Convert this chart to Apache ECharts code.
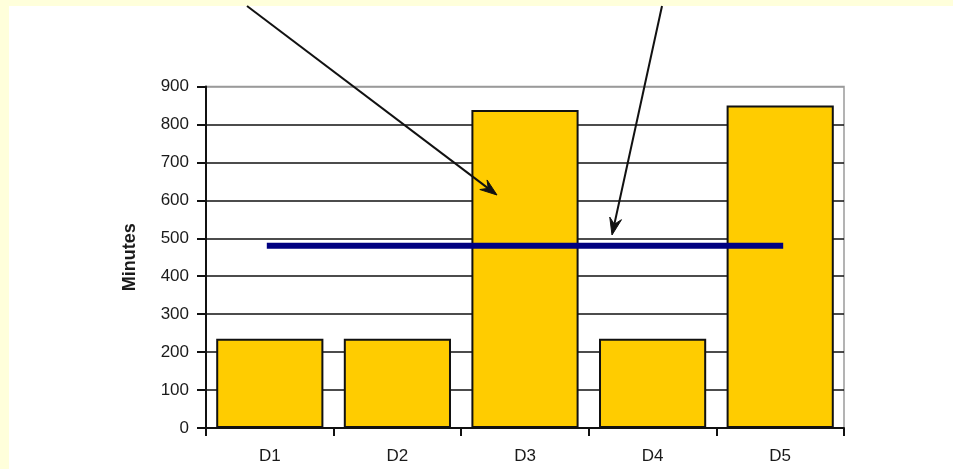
<!DOCTYPE html>
<html>
<head>
<meta charset="utf-8">
<script src="https://cdn.jsdelivr.net/npm/echarts@6/dist/echarts.min.js"></script>
<style>
html,body{margin:0;padding:0;background:#FFFFDB;}
#chart{width:953px;height:469px;}
</style>
</head>
<body>
<div id="chart"></div>
<script>
var categories = ['D1', 'D2', 'D3', 'D4', 'D5'];
var minutes = [235, 235, 838, 235, 850];
var average = [480, 480, 480, 480, 480];
var yTicks = { min: 0, max: 900, interval: 100 };

// annotation arrows (start -> tip, pixel positions)
var arrows = [
  { from: [247, 6], to: [497, 195] },
  { from: [662, 6], to: [612, 235] }
];

function arrowGraphics(a) {
  var dx = a.to[0] - a.from[0], dy = a.to[1] - a.from[1];
  var len = Math.sqrt(dx * dx + dy * dy);
  var ux = dx / len, uy = dy / len, nx = -uy, ny = ux;
  var hl = 17, hw = 6, notch = 11;
  var bx = a.to[0] - hl * ux, by = a.to[1] - hl * uy;
  var nxp = a.to[0] - notch * ux, nyp = a.to[1] - notch * uy;
  return [
    { type: 'line', z: 100, silent: true,
      shape: { x1: a.from[0], y1: a.from[1], x2: nxp, y2: nyp },
      style: { stroke: '#111', lineWidth: 2 } },
    { type: 'polygon', z: 100, silent: true,
      shape: { points: [a.to, [bx + hw * nx, by + hw * ny], [nxp, nyp], [bx - hw * nx, by - hw * ny]] },
      style: { fill: '#111', stroke: '#111', lineWidth: 1 } }
  ];
}

var graphics = [
  { type: 'rect', z: -10, silent: true, shape: { x: 9, y: 6, width: 960, height: 480 }, style: { fill: '#ffffff' } }
];
arrows.forEach(function (a) { graphics = graphics.concat(arrowGraphics(a)); });

var splitColors = [];
for (var i = 0; i < 9; i++) splitColors.push('#111111');
splitColors.push('#9a9a9a');

var chart = echarts.init(document.getElementById('chart'), null, { renderer: 'canvas' });
chart.setOption({
  backgroundColor: '#FFFFDB',
  animation: false,
  grid: { left: 206, right: 109, top: 86.5, bottom: 41, show: true, borderColor: '#9a9a9a', borderWidth: 1.5, backgroundColor: 'transparent' },
  xAxis: {
    type: 'category',
    data: categories,
    axisLine: { lineStyle: { color: '#111', width: 2 } },
    axisTick: { show: true, inside: false, length: 8, alignWithLabel: false, lineStyle: { color: '#111', width: 2 } },
    axisLabel: { color: '#1a1a1a', fontFamily: 'Liberation Sans, Arial', fontSize: 17, margin: 20 },
    splitLine: { show: false }
  },
  yAxis: {
    type: 'value',
    min: yTicks.min, max: yTicks.max, interval: yTicks.interval,
    name: 'Minutes',
    nameLocation: 'middle',
    nameRotate: 90,
    nameGap: 67,
    nameTextStyle: { color: '#1a1a1a', fontFamily: 'Liberation Sans, Arial', fontSize: 18, fontWeight: 'bold' },
    axisLine: { show: true, lineStyle: { color: '#111', width: 2 } },
    axisTick: { show: true, length: 9, lineStyle: { color: '#111', width: 2 } },
    axisLabel: { color: '#1a1a1a', fontFamily: 'Liberation Sans, Arial', fontSize: 17, margin: 17 },
    splitLine: { show: true, lineStyle: { color: splitColors, width: 1.5 } }
  },
  series: [
    {
      type: 'bar',
      data: minutes,
      barCategoryGap: '16%',
      itemStyle: { color: '#FFCC00', borderColor: '#111', borderWidth: 2 },
      z: 2
    },
    {
      type: 'line',
      data: average,
      symbol: 'none',
      lineStyle: { color: '#000080', width: 6, cap: 'square' },
      z: 5
    }
  ],
  graphic: graphics
});
</script>
</body>
</html>
